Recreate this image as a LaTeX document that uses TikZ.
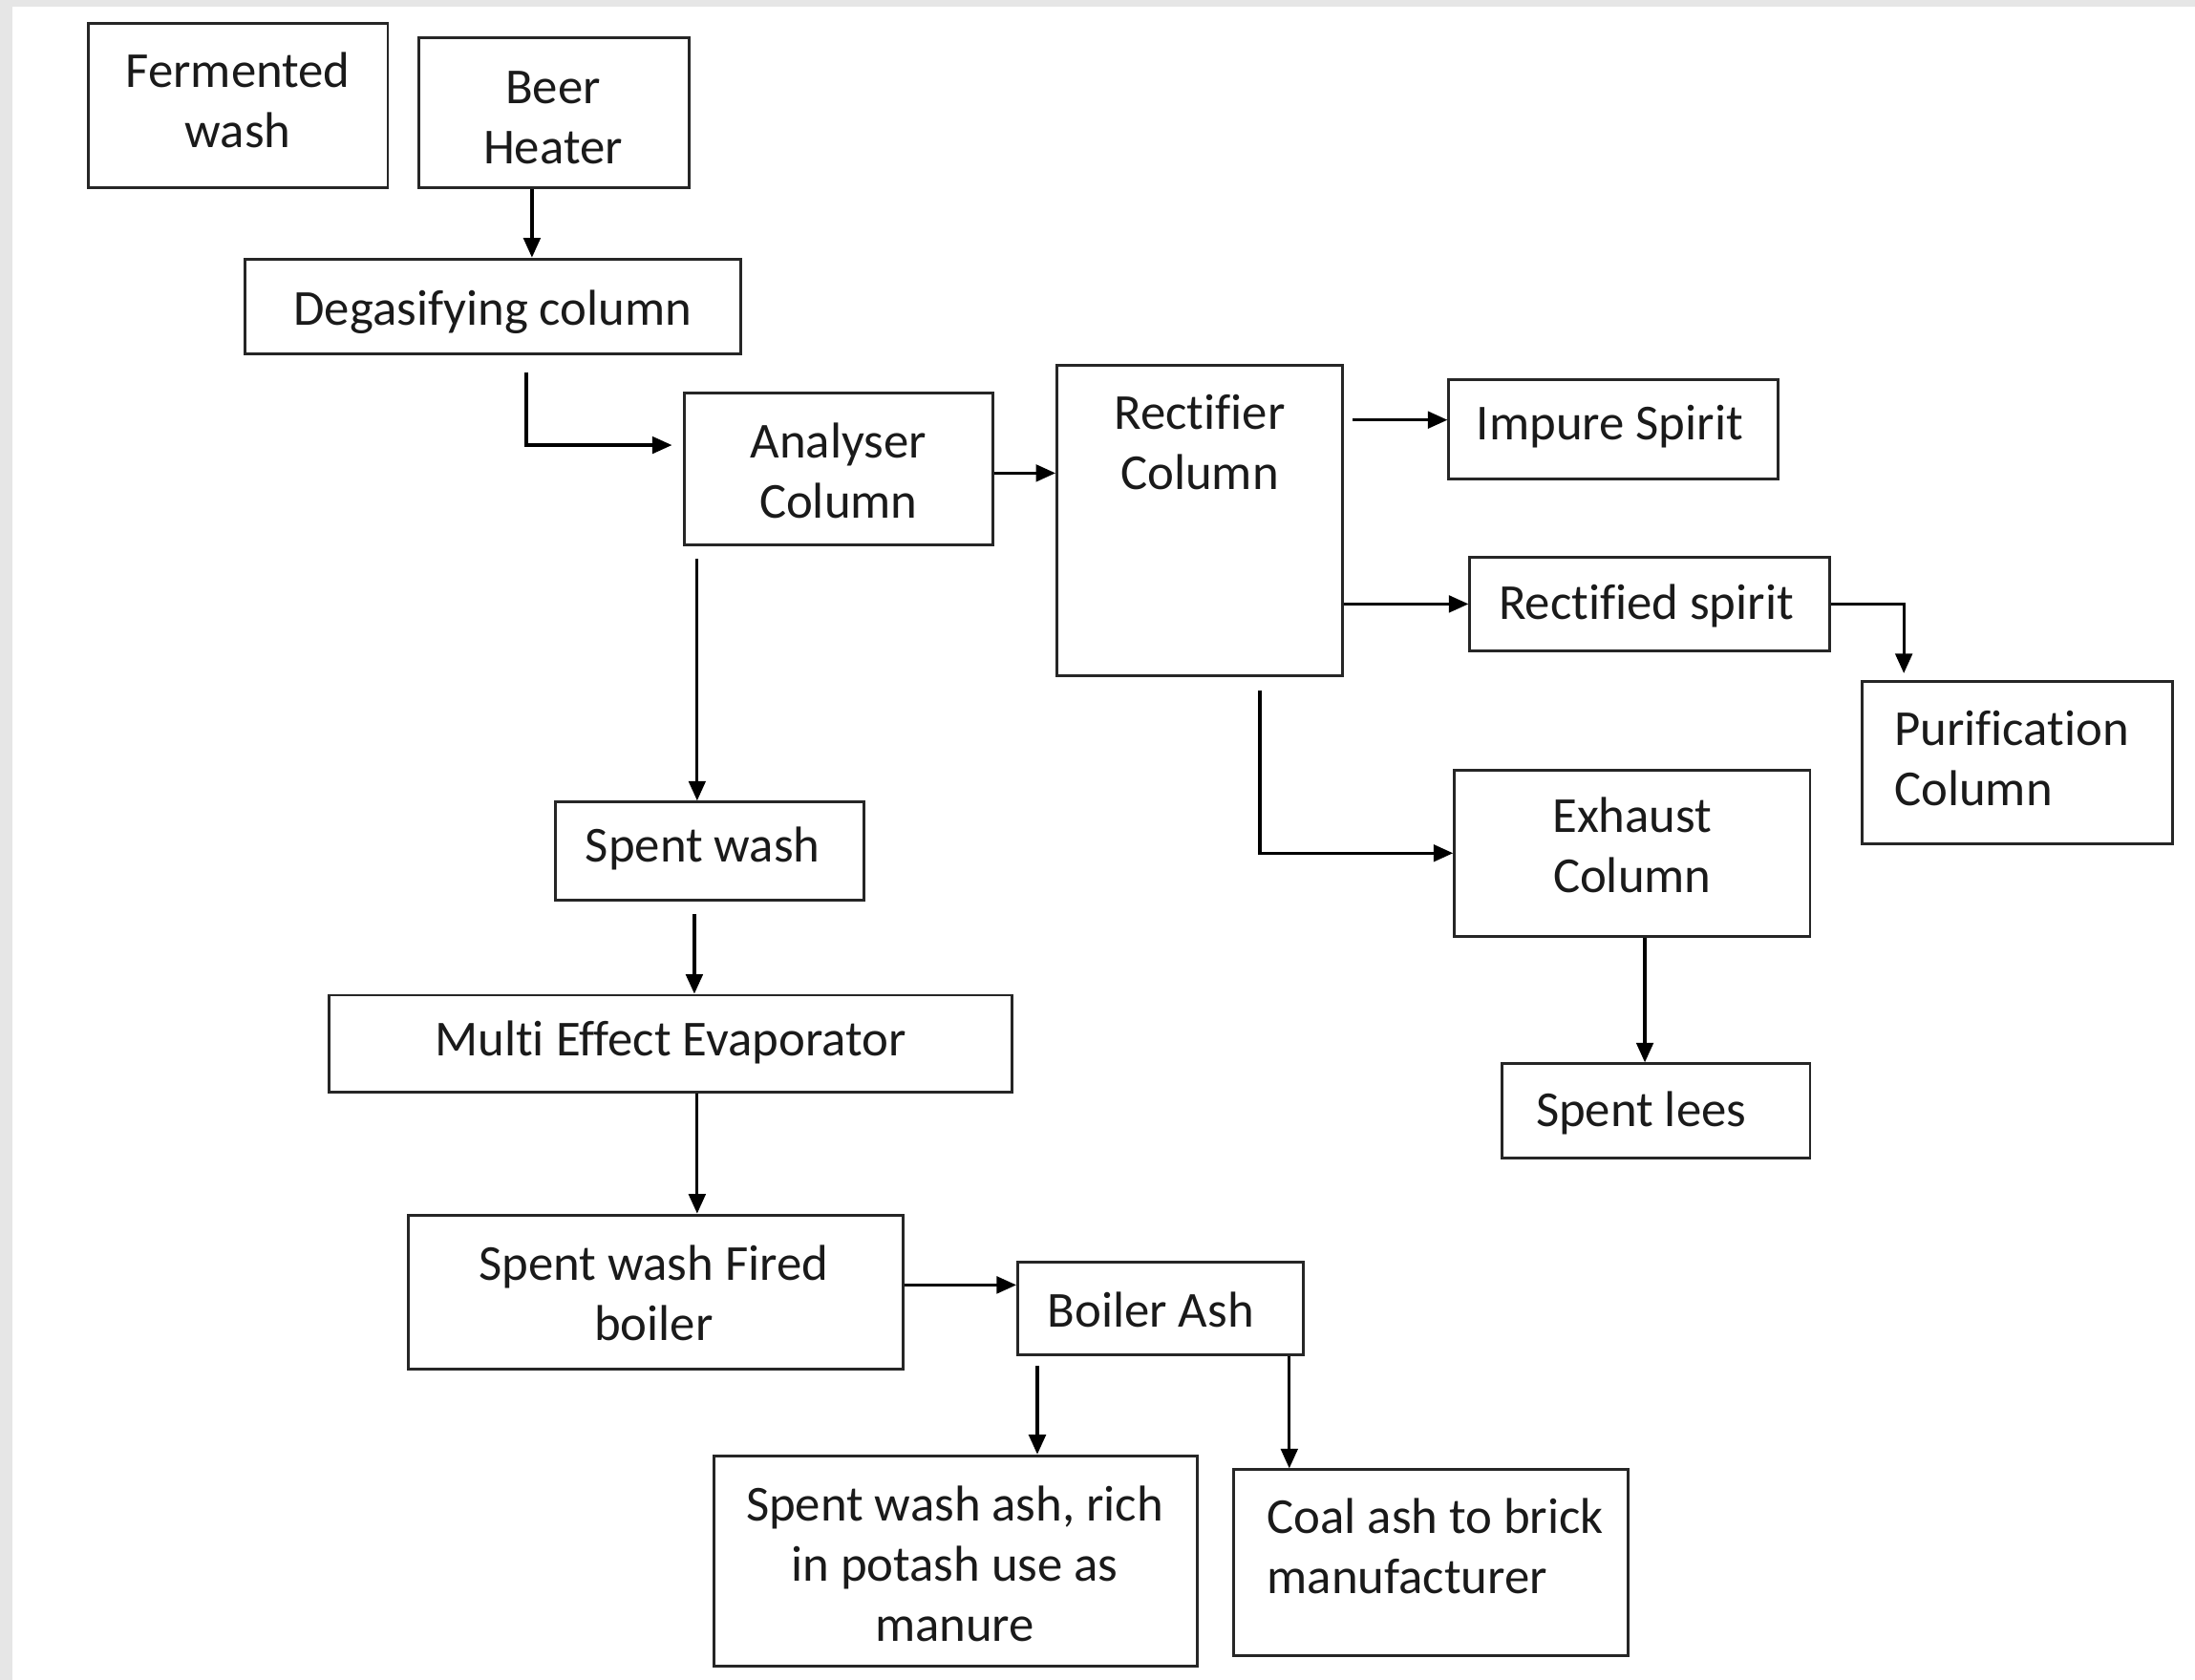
\documentclass[tikz,border=0pt]{standalone}
\usepackage{fontspec}
\setmainfont[Ligatures=NoCommon]{Carlito}
\usetikzlibrary{arrows.meta}
\definecolor{frame}{HTML}{E6E6E6}
\definecolor{ink}{HTML}{1A1A1A}
\begin{document}
\begin{tikzpicture}[x=1pt,y=-1pt,
  box/.style={draw=black!85, line width=2pt, rectangle, inner sep=0pt, fill=white},
  txt/.style={inner sep=0pt, align=center, text=ink, font=\fontsize{36}{43}\selectfont},
  ltxt/.style={txt, align=left, anchor=west},
  arr/.style={draw=black, line width=2.2pt, -{Triangle[length=14pt,width=12pt]}}]
\useasboundingbox (0,0) rectangle (1568,1200);
\fill[frame] (0,0) rectangle (1568,1200);
\fill[white] (9,5) rectangle (1568,1200);
% boxes
\node[box, minimum width=214pt, minimum height=117pt] (fw) at (170,75.5) {};
\node[box, minimum width=193pt, minimum height=107pt] (bh) at (395.5,80.5) {};
\node[box, minimum width=354pt, minimum height=68pt] (dg) at (352,219) {};
\node[box, minimum width=220pt, minimum height=108pt] (an) at (599,335) {};
\node[box, minimum width=204pt, minimum height=222pt] (rc) at (857,372) {};
\node[box, minimum width=235pt, minimum height=71pt] (is) at (1152.5,306.5) {};
\node[box, minimum width=257pt, minimum height=67pt] (rs) at (1178.5,431.5) {};
\node[box, minimum width=222pt, minimum height=116pt] (pc) at (1441,545) {};
\node[box, minimum width=254pt, minimum height=119pt] (ec) at (1166,609.5) {};
\node[box, minimum width=220pt, minimum height=67pt] (sl) at (1183,793.5) {};
\node[box, minimum width=220pt, minimum height=70pt] (sw) at (507,608) {};
\node[box, minimum width=488pt, minimum height=69pt] (me) at (479,745.5) {};
\node[box, minimum width=353pt, minimum height=110pt] (bo) at (468.5,923) {};
\node[box, minimum width=204pt, minimum height=66pt] (ba) at (829,935) {};
\node[box, minimum width=345pt, minimum height=150pt] (sa) at (682.5,1115) {};
\node[box, minimum width=282pt, minimum height=133pt] (ca) at (1022,1116.5) {};
% texts
\node[txt] (tfw) at (170,71.5) {Fermented\\wash};
\node[txt] (tbh) at (395,84) {Beer\\Heater};
\node[txt] (tdg) at (352,223) {Degasifying column};
\node[txt] (tan) at (599,336) {Analyser\\Column};
\node[txt] (trc) at (857,316) {Rectifier\\Column};
\node[txt] (tis) at (1150,305) {Impure Spirit};
\node[txt] (trs) at (1176,433) {Rectified spirit};
\node[ltxt] (tpc) at (1353,542) {Purification\\Column};
\node[txt] (tec) at (1166,603.5) {Exhaust\\Column};
\node[ltxt] (tsl) at (1097,795) {Spent lees};
\node[txt] (tsw) at (502,606) {Spent wash};
\node[txt] (tme) at (479,745) {Multi Effect Evaporator};
\node[txt] (tbo) at (467,924) {Spent wash Fired\\boiler};
\node[txt] (tba) at (822,936) {Boiler Ash};
\node[txt] (tsa) at (682,1117) {Spent wash ash, rich\\in potash use as\\manure};
\node[ltxt] (tca) at (905,1104.5) {Coal ash to brick\\manufacturer};
% connectors
\draw[arr] ([xshift=-15.5pt]bh.south) -- ([xshift=-15.5pt]bh.south |- dg.north);
\draw[arr, shorten <=12pt, shorten >=8pt] ([xshift=24pt]dg.south) |- ([yshift=17pt]an.west);
\draw[arr] ([yshift=-3pt]an.east) -- ([yshift=-3pt]an.east -| rc.west);
\draw[arr, shorten <=6pt] ([yshift=6.5pt]is.west -| rc.east) -- ([yshift=6.5pt]is.west);
\draw[arr] (rs.west -| rc.east) -- (rs.west);
\draw[arr, shorten >=5pt] (rs.east) -| ([xshift=-81pt]pc.north);
\draw[arr, shorten <=9pt] ([xshift=43pt]rc.south) |- (ec.west);
\draw[arr, shorten <=9pt] ([xshift=-101pt]an.south) -- ([xshift=-101pt]an.south |- sw.north);
\draw[arr, shorten <=9pt] ([xshift=-11pt]sw.south) -- ([xshift=-11pt]sw.south |- me.north);
\draw[arr] ([xshift=19pt]me.south) -- ([xshift=19pt]me.south |- bo.north);
\draw[arr] ([yshift=5pt]bo.east) -- ([yshift=5pt]bo.east -| ba.west);
\draw[arr, shorten <=7pt] ([xshift=-88pt]ba.south) -- ([xshift=-88pt]ba.south |- sa.north);
\draw[arr] ([xshift=92pt]ba.south) -- ([xshift=92pt]ba.south |- ca.north);
\draw[arr] ([xshift=9pt]ec.south) -- ([xshift=9pt]ec.south |- sl.north);
\end{tikzpicture}
\end{document}
